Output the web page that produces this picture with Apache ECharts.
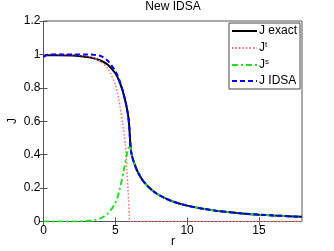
<!DOCTYPE html>
<html><head><meta charset="utf-8">
<script src="https://cdn.jsdelivr.net/npm/echarts@6/dist/echarts.min.js"></script>
<style>html,body{margin:0;padding:0;background:#fff}#c{width:334px;height:251px}</style>
</head><body><div id="c"></div>
<script>
const titleText = 'New IDSA';
const xLabel = 'r';
const yLabel = 'J';
const seriesNames = ['J exact', 'Jt', 'Js', 'J IDSA'];

const rExact = [0, 1, 2, 3, 3.5, 4, 4.5, 5, 5.25, 5.5, 5.7, 5.8, 5.9, 5.97, 6.02, 6.06, 6.1, 6.2, 6.4, 6.6, 7, 7.5, 8, 8.5, 9, 10, 11, 12, 13, 14, 15, 16, 17, 18];
const jExact = [0.995, 0.995, 0.993, 0.985, 0.977, 0.962, 0.937, 0.887, 0.845, 0.785, 0.72, 0.68, 0.63, 0.57, 0.5, 0.45, 0.42, 0.38, 0.33, 0.29, 0.235, 0.192, 0.16, 0.138, 0.12, 0.095, 0.078, 0.065, 0.055, 0.047, 0.041, 0.036, 0.032, 0.028];

const rT = [0, 1, 2, 3, 3.5, 4, 4.5, 5, 5.25, 5.5, 5.7, 5.8, 5.9, 5.97, 6.0, 7, 10, 14, 18];
const jT = [1.0, 1.0, 0.998, 0.99, 0.98, 0.955, 0.915, 0.82, 0.73, 0.59, 0.46, 0.33, 0.17, 0.04, 0, 0, 0, 0, 0];

const rS = [0, 1, 2, 3, 3.5, 4, 4.5, 5, 5.3, 5.6, 5.8, 5.95, 6.02, 6.06, 6.1, 6.2, 6.4, 6.6, 7, 7.5, 8, 8.5, 9, 10, 11, 12, 13, 14, 15, 16, 17, 18];
const jS = [0, 0, 0, 0.003, 0.008, 0.02, 0.05, 0.11, 0.19, 0.31, 0.4, 0.45, 0.46, 0.45, 0.42, 0.38, 0.33, 0.29, 0.235, 0.192, 0.16, 0.138, 0.12, 0.095, 0.078, 0.065, 0.055, 0.047, 0.041, 0.036, 0.032, 0.028];

const rIdsa = [0, 0.3, 1, 2, 3, 3.5, 4, 4.5, 5, 5.25, 5.5, 5.7, 5.8, 5.9, 5.97, 6.02, 6.06, 6.1, 6.2, 6.4, 6.6, 7, 7.5, 8, 8.5, 9, 10, 11, 12, 13, 14, 15, 16, 17, 18];
const jIdsa = [0.985, 0.998, 1.0, 1.0, 1.0, 0.998, 0.99, 0.96, 0.9, 0.855, 0.79, 0.72, 0.68, 0.63, 0.57, 0.5, 0.45, 0.42, 0.38, 0.33, 0.29, 0.235, 0.192, 0.16, 0.138, 0.12, 0.095, 0.078, 0.065, 0.055, 0.047, 0.041, 0.036, 0.032, 0.028];

const xTicks = [0, 5, 10, 15];
const yTicks = [0, 0.2, 0.4, 0.6, 0.8, 1, 1.2];

function pairs(xs, ys) { return xs.map((x, i) => [x, ys[i]]); }

const FONT = 'Liberation Sans';
const FS = 12;
const chart = echarts.init(document.getElementById('c'), null, {renderer: 'canvas'});
const tickStyle = {show: true, inside: true, length: 4, lineStyle: {color: '#555'}};
chart.setOption({
  animation: false,
  backgroundColor: '#fff',
  title: {text: titleText, left: 173, top: 1, padding: 0, textAlign: 'center',
    textStyle: {fontFamily: FONT, fontSize: FS, fontWeight: 'normal', color: '#000'}},
  grid: {left: 43.5, right: 32, top: 21, bottom: 29.5, show: true, borderColor: '#555', borderWidth: 1, backgroundColor: '#fff',
    containLabel: false, outerBoundsMode: 'none'},
  graphic: [
    {type: 'text', x: 173, y: 242, style: {text: xLabel, fontFamily: FONT, fontSize: FS, fill: '#000', align: 'center', verticalAlign: 'middle'}},
    {type: 'text', x: 13, y: 121, rotation: Math.PI / 2, style: {text: yLabel, fontFamily: FONT, fontSize: FS, fill: '#000', align: 'center', verticalAlign: 'middle'}}
  ],
  legend: {
    orient: 'vertical', left: 229, top: 23,
    data: seriesNames,
    backgroundColor: '#fff', borderColor: '#444', borderWidth: 1, borderRadius: 0,
    padding: [2, 3, 2, 2], itemGap: 4, itemWidth: 25, itemHeight: 13,
    itemStyle: {opacity: 0},
    textStyle: {fontFamily: FONT, fontSize: FS, color: '#000', padding: [0, 0, 0, -3],
      rich: {b: {fontFamily: FONT, fontSize: FS, color: '#000'}, sup: {fontFamily: FONT, fontSize: 8, color: '#000', verticalAlign: 'top', padding: [0, 0, 6, 0]}}},
    formatter: function (n) {
      if (n === 'Jt') return '{b|J}{sup|t}';
      if (n === 'Js') return '{b|J}{sup|s}';
      return n;
    }
  },
  xAxis: [
    {type: 'value', min: 0, max: 18, interval: 5, position: 'bottom',
      axisLine: {show: false}, splitLine: {show: false},
      axisLabel: {fontFamily: FONT, fontSize: FS, color: '#000', margin: 3, customValues: xTicks},
      axisTick: Object.assign({}, tickStyle, {customValues: xTicks})},
    {type: 'value', min: 0, max: 18, interval: 5, position: 'top',
      axisLine: {show: false}, splitLine: {show: false},
      axisLabel: {show: false}, axisTick: Object.assign({}, tickStyle, {customValues: xTicks})}
  ],
  yAxis: [
    {type: 'value', min: 0, max: 1.2, interval: 0.2, position: 'left',
      axisLine: {show: false}, splitLine: {show: false},
      axisLabel: {fontFamily: FONT, fontSize: FS, color: '#000', margin: 3, customValues: yTicks},
      axisTick: Object.assign({}, tickStyle, {customValues: yTicks})},
    {type: 'value', min: 0, max: 1.2, interval: 0.2, position: 'right',
      axisLine: {show: false}, splitLine: {show: false},
      axisLabel: {show: false}, axisTick: Object.assign({}, tickStyle, {customValues: yTicks})}
  ],
  series: [
    {name: seriesNames[0], type: 'line', data: pairs(rExact, jExact), showSymbol: false, symbol: 'none', smooth: 0.3,
      lineStyle: {color: '#000', width: 2, type: 'solid'}, itemStyle: {color: '#000'}, z: 2},
    {name: seriesNames[1], type: 'line', data: pairs(rT, jT), showSymbol: false, symbol: 'none', smooth: 0.2,
      lineStyle: {color: '#ff7070', width: 1.5, type: [1.5, 2]}, itemStyle: {color: '#ff7070'}, z: 3},
    {name: seriesNames[2], type: 'line', data: pairs(rS, jS), showSymbol: false, symbol: 'none', smooth: 0.3,
      lineStyle: {color: '#22dd22', width: 2, type: [6, 3, 2, 3]}, itemStyle: {color: '#22dd22'}, z: 4},
    {name: seriesNames[3], type: 'line', data: pairs(rIdsa, jIdsa), showSymbol: false, symbol: 'none', smooth: 0.3,
      lineStyle: {color: '#0000ff', width: 2, type: [5, 3]}, itemStyle: {color: '#0000ff'}, z: 5}
  ]
});
</script></body></html>
